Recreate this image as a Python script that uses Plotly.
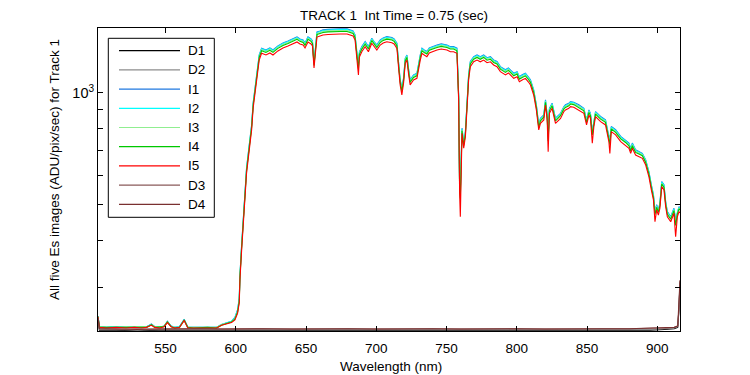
import plotly.graph_objects as go

# ---------------- data ----------------
wavelength = [
    502.0, 503.0, 508.0, 515.0, 522.0, 528.0, 533.0, 536.5, 538.5, 540.0,
    542.4, 546.0, 549.0, 551.4, 554.0, 556.6, 560.0, 563.3, 565.9, 570.0,
    575.0, 580.0, 586.4, 589.9, 594.0, 597.0, 599.4, 601.3, 602.5, 603.0,
    604.2, 605.3, 606.5, 607.7, 609.6, 611.3, 612.4, 614.4, 616.7, 618.4,
    621.5, 624.3, 626.5, 630.0, 633.6, 637.2, 640.7, 643.6, 645.7, 647.9,
    649.3, 651.4, 653.6, 654.6, 655.7, 656.4, 657.8, 660.0, 662.1, 665.7,
    669.3, 674.3, 679.2, 682.1, 683.5, 684.9, 686.4, 687.3, 688.0, 689.7,
    692.1, 694.4, 696.8, 698.5, 700.4, 702.8, 704.9, 707.5, 711.1, 712.7,
    714.7, 715.8, 717.0, 718.2, 719.4, 720.6, 721.8, 722.9, 724.1, 726.5,
    728.9, 731.3, 732.5, 734.1, 736.0, 737.7, 739.6, 743.2, 746.2, 750.3,
    752.7, 755.0, 757.4, 758.6, 759.3, 759.8, 761.0, 762.2, 763.4, 764.6,
    765.7, 766.9, 769.3, 771.7, 774.0, 776.4, 778.8, 781.2, 783.5, 785.9,
    788.3, 791.9, 794.0, 795.4, 797.8, 800.2, 801.8, 803.8, 806.1, 808.3,
    809.7, 812.0, 813.9, 815.6, 816.8, 819.2, 820.4, 821.6, 822.3, 823.2,
    825.1, 827.5, 829.9, 831.1, 833.4, 834.6, 837.0, 838.2, 840.5, 844.1,
    847.7, 849.6, 851.3, 852.4, 853.7, 854.8, 856.0, 859.6, 863.1, 865.5,
    866.2, 867.2, 870.3, 873.9, 877.4, 879.8, 881.0, 882.2, 884.5, 886.9,
    889.3, 891.7, 894.0, 895.7, 897.2, 898.3, 899.5, 900.7, 901.8, 903.1,
    904.7, 905.9, 907.1, 909.5, 910.7, 911.8, 913.0, 914.2, 915.4, 916.1,
]

I5 = [
    250, 234, 233, 234, 233, 234, 233, 234, 236, 237,
    234, 233, 235, 241, 235, 233, 234, 244, 233, 233,
    234, 233, 233, 237, 239, 241, 245, 255, 272, 314,
    378, 446, 515, 608, 701, 794, 910, 1062, 1224, 1276,
    1263, 1279, 1263, 1295, 1319, 1335, 1352, 1369, 1352, 1343,
    1319, 1369, 1352, 1335, 1165, 1240, 1411, 1420, 1429, 1434,
    1438, 1438, 1438, 1429, 1420, 1386, 1202, 1116, 1247, 1289,
    1329, 1289, 1358, 1327, 1302, 1343, 1360, 1371, 1363, 1352,
    1316, 1175, 1049, 986, 1060, 1199, 1224, 1128, 1049, 1082,
    1093, 1224, 1276, 1263, 1250, 1279, 1289, 1302, 1311, 1302,
    1289, 1289, 1276, 956, 537, 464, 778, 709, 762, 899,
    1082, 1175, 1211, 1224, 1211, 1224, 1204, 1211, 1187, 1175,
    1139, 1116, 1130, 1116, 1093, 1104, 1070, 1082, 1093, 1068,
    1049, 986, 899, 794, 827, 845, 927, 845, 694, 880,
    908, 827, 845, 853, 889, 899, 908, 917, 914, 899,
    880, 819, 871, 853, 731, 810, 862, 836, 819, 739,
    687, 786, 770, 739, 723, 709, 687, 709, 680, 673,
    666, 639, 594, 548, 515, 450, 484, 469, 489, 559,
    548, 494, 464, 450, 464, 474, 410, 464, 479, 475,
]

I4 = [
    250, 234, 234, 234, 233, 234, 234, 234, 236, 238,
    234, 234, 235, 242, 235, 233, 234, 245, 234, 233,
    234, 234, 233, 237, 240, 242, 246, 257, 275, 319,
    384, 453, 523, 618, 712, 807, 925, 1079, 1244, 1296,
    1283, 1300, 1283, 1316, 1340, 1356, 1374, 1391, 1374, 1364,
    1340, 1391, 1374, 1356, 1184, 1260, 1434, 1443, 1452, 1457,
    1461, 1461, 1461, 1452, 1443, 1408, 1221, 1160, 1267, 1310,
    1350, 1310, 1380, 1348, 1323, 1364, 1382, 1393, 1385, 1374,
    1337, 1194, 1066, 1010, 1077, 1218, 1244, 1146, 1066, 1099,
    1110, 1244, 1296, 1283, 1270, 1300, 1310, 1323, 1332, 1323,
    1310, 1310, 1296, 971, 548, 520, 790, 720, 774, 913,
    1099, 1194, 1230, 1244, 1230, 1244, 1223, 1230, 1206, 1194,
    1157, 1134, 1148, 1134, 1110, 1122, 1087, 1099, 1110, 1085,
    1066, 1002, 913, 807, 840, 859, 942, 859, 740, 894,
    922, 840, 859, 867, 903, 913, 922, 932, 929, 913,
    894, 832, 885, 867, 770, 823, 876, 849, 832, 751,
    725, 799, 782, 751, 735, 720, 698, 720, 691, 684,
    677, 649, 604, 557, 523, 470, 492, 477, 497, 568,
    557, 502, 471, 457, 471, 482, 440, 471, 487, 483,
]

I3 = [
    250, 235, 234, 234, 234, 234, 234, 235, 236, 238,
    235, 234, 236, 242, 235, 234, 234, 245, 234, 234,
    234, 234, 234, 238, 240, 242, 247, 258, 277, 321,
    386, 456, 526, 621, 716, 812, 930, 1085, 1251, 1304,
    1291, 1307, 1291, 1324, 1348, 1364, 1382, 1399, 1382, 1373,
    1348, 1399, 1382, 1364, 1191, 1267, 1442, 1451, 1460, 1466,
    1470, 1470, 1470, 1460, 1451, 1416, 1228, 1175, 1274, 1317,
    1358, 1317, 1388, 1356, 1331, 1373, 1390, 1401, 1393, 1382,
    1345, 1201, 1072, 1020, 1083, 1225, 1251, 1153, 1072, 1106,
    1117, 1251, 1304, 1291, 1278, 1307, 1317, 1331, 1340, 1331,
    1317, 1317, 1304, 977, 552, 530, 795, 725, 779, 919,
    1106, 1201, 1238, 1251, 1238, 1251, 1230, 1238, 1213, 1201,
    1164, 1141, 1155, 1141, 1117, 1128, 1094, 1106, 1117, 1092,
    1072, 1008, 919, 812, 845, 864, 947, 864, 750, 899,
    928, 845, 864, 872, 909, 919, 928, 937, 934, 919,
    899, 837, 890, 872, 775, 828, 881, 854, 837, 755,
    735, 803, 787, 755, 739, 725, 702, 725, 695, 688,
    681, 653, 607, 560, 526, 475, 495, 479, 500, 571,
    560, 505, 474, 460, 474, 484, 445, 474, 490, 485,
]

I2 = [
    251, 235, 234, 235, 234, 234, 234, 235, 237, 238,
    235, 234, 236, 242, 236, 234, 235, 245, 234, 234,
    235, 234, 234, 238, 241, 243, 248, 260, 279, 323,
    389, 458, 529, 625, 721, 816, 936, 1092, 1258, 1312,
    1298, 1315, 1298, 1331, 1356, 1372, 1390, 1407, 1390, 1381,
    1356, 1407, 1390, 1372, 1198, 1275, 1451, 1460, 1469, 1474,
    1478, 1478, 1478, 1469, 1460, 1425, 1236, 1190, 1282, 1325,
    1366, 1325, 1396, 1364, 1338, 1381, 1398, 1409, 1401, 1390,
    1353, 1208, 1078, 1030, 1090, 1233, 1258, 1160, 1078, 1112,
    1124, 1258, 1312, 1298, 1285, 1315, 1325, 1338, 1348, 1338,
    1325, 1325, 1312, 983, 555, 540, 800, 729, 783, 924,
    1112, 1208, 1245, 1258, 1245, 1258, 1238, 1245, 1220, 1208,
    1171, 1147, 1162, 1147, 1124, 1135, 1100, 1112, 1124, 1098,
    1078, 1014, 924, 816, 850, 869, 953, 869, 760, 905,
    933, 850, 869, 877, 914, 924, 933, 943, 940, 924,
    905, 842, 895, 877, 780, 833, 886, 859, 842, 760,
    745, 808, 792, 760, 743, 729, 706, 729, 699, 692,
    685, 657, 611, 563, 529, 478, 498, 482, 503, 575,
    563, 508, 477, 463, 477, 487, 450, 477, 492, 488,
]

I1 = [
    251, 235, 234, 235, 234, 235, 234, 235, 237, 239,
    235, 234, 236, 243, 236, 234, 235, 246, 234, 234,
    235, 234, 234, 238, 241, 243, 249, 261, 280, 324,
    390, 460, 532, 628, 723, 819, 939, 1096, 1263, 1317,
    1303, 1320, 1303, 1336, 1361, 1378, 1395, 1413, 1395, 1386,
    1361, 1413, 1395, 1378, 1202, 1280, 1456, 1465, 1475, 1480,
    1484, 1484, 1484, 1475, 1465, 1430, 1240, 1200, 1287, 1330,
    1372, 1330, 1401, 1370, 1344, 1386, 1404, 1415, 1407, 1395,
    1358, 1213, 1083, 1035, 1094, 1237, 1263, 1164, 1083, 1117,
    1128, 1263, 1317, 1303, 1290, 1320, 1330, 1344, 1353, 1344,
    1330, 1330, 1317, 987, 556, 545, 803, 732, 786, 928,
    1117, 1213, 1250, 1263, 1250, 1263, 1242, 1250, 1225, 1213,
    1175, 1152, 1166, 1152, 1128, 1139, 1104, 1117, 1128, 1102,
    1083, 1018, 928, 819, 854, 872, 957, 872, 765, 908,
    937, 854, 872, 880, 917, 928, 937, 946, 943, 928,
    908, 845, 899, 880, 785, 836, 890, 863, 845, 763,
    750, 811, 795, 763, 746, 732, 709, 732, 702, 695,
    687, 659, 613, 566, 532, 480, 500, 484, 505, 577,
    566, 510, 479, 464, 479, 489, 455, 479, 494, 490,
]

dark_wavelength = [
    502.0, 503.0, 515.0, 530.0, 545.0, 560.0, 575.0, 590.0, 605.0, 620.0,
    640.0, 660.0, 680.0, 700.0, 720.0, 740.0, 760.0, 780.0, 800.0, 820.0,
    840.0, 860.0, 880.0, 895.0, 905.0, 912.0, 914.5, 915.4, 916.1,
]
D1 = [246, 230, 230, 229, 230, 230, 229, 230, 230, 229,
      230, 230, 229, 230, 230, 229, 230, 230, 229, 230,
      230, 229, 230, 230, 231, 232, 234, 262, 308]
D2 = [247, 231, 231, 230, 231, 231, 230, 231, 231, 230,
      231, 231, 230, 231, 231, 230, 231, 231, 230, 231,
      231, 231, 231, 231, 232, 233, 235, 264, 310]
D3 = [248, 232, 231, 232, 231, 232, 232, 231, 232, 232,
      231, 232, 232, 231, 232, 232, 231, 232, 232, 231,
      232, 232, 232, 232, 233, 234, 236, 265, 312]
D4 = [248, 232, 232, 231, 232, 232, 231, 232, 232, 231,
      232, 232, 231, 232, 232, 231, 232, 232, 231, 232,
      232, 232, 232, 233, 233, 234, 236, 266, 313]

series_names = ["D1", "D2", "I1", "I2", "I3", "I4", "I5", "D3", "D4"]
series_colors = ["#000000", "#8c8c8c", "#1f78e0", "#00ffff", "#90ee90",
                 "#00c800", "#ff0000", "#8a5a5a", "#7a3030"]

x_ticks = [550, 600, 650, 700, 750, 800, 850, 900]
y_major_ticks = [1000]
y_major_text = ["10<sup>3</sup>"]
y_minor_ticks = [300, 400, 500, 600, 700, 800, 900]

# ---------------- figure ----------------
FONT = "Liberation Sans, Arial, Helvetica, sans-serif"
fig = go.Figure()

data_map = {
    "D1": (dark_wavelength, D1), "D2": (dark_wavelength, D2),
    "I1": (wavelength, I1), "I2": (wavelength, I2), "I3": (wavelength, I3),
    "I4": (wavelength, I4), "I5": (wavelength, I5),
    "D3": (dark_wavelength, D3), "D4": (dark_wavelength, D4),
}
for name, color in zip(series_names, series_colors):
    xs, ys = data_map[name]
    fig.add_trace(go.Scatter(x=xs, y=ys, mode="lines", name=name,
                             line=dict(color=color, width=1.1),
                             showlegend=False, hoverinfo="skip"))

# page has an 8px body margin: figure is shrunk so the plot lands where the reference has it
OFF = 8
W, H = 750 - OFF, 375 - OFF
PL, PR, PT, PB = 98, 680, 28, 331          # plot-area edges in page pixels
L, R, T, B = PL - OFF, W - (PR - OFF), PT - OFF, H - (PB - OFF)
pw, ph = PR - PL, PB - PT


def px_x(px):
    return (px - PL) / pw


def px_y(py):
    return (PB - py) / ph


shapes = []
annotations = []
# legend box
shapes.append(dict(type="rect", xref="paper", yref="paper",
                   x0=px_x(108.3), x1=px_x(214.3), y0=px_y(217.3), y1=px_y(38.3),
                   line=dict(color="black", width=1), fillcolor="white", layer="above"))
for i, (name, color) in enumerate(zip(series_names, series_colors)):
    yy = px_y(50.7 + 19.2 * i)
    shapes.append(dict(type="line", xref="paper", yref="paper",
                       x0=px_x(119), x1=px_x(180), y0=yy, y1=yy,
                       line=dict(color=color, width=1.2), layer="above"))
    annotations.append(dict(text=name, xref="paper", yref="paper",
                            x=px_x(186), y=yy, xanchor="left", yanchor="middle",
                            showarrow=False, font=dict(family=FONT, size=13.5, color="black")))

annotations.append(dict(text="TRACK 1\u00a0 Int Time = 0.75 (sec)", xref="paper", yref="paper",
                        x=px_x(393.8), y=px_y(15), xanchor="center", yanchor="middle",
                        showarrow=False, font=dict(family=FONT, size=13.5, color="black")))
annotations.append(dict(text="Wavelength (nm)", xref="paper", yref="paper",
                        x=px_x(391), y=px_y(366), xanchor="center", yanchor="middle",
                        showarrow=False, font=dict(family=FONT, size=13.5, color="black")))
annotations.append(dict(text="All five Es images (ADU/pix/sec) for Track 1", xref="paper", yref="paper",
                        x=px_x(54), y=px_y(170), xanchor="center", yanchor="middle",
                        textangle=-90, showarrow=False,
                        font=dict(family=FONT, size=13.5, color="black")))

fig.update_layout(
    width=W, height=H,
    margin=dict(l=L, r=R, t=T, b=B, autoexpand=False),
    paper_bgcolor="white", plot_bgcolor="white",
    font=dict(family=FONT, size=13, color="black"),
    shapes=shapes, annotations=annotations,
    showlegend=False,
)
fig.update_xaxes(range=[502.0, 916.1], tickvals=x_ticks, ticks="inside", ticklen=5,
                 tickcolor="black", showline=True, linecolor="black", linewidth=1,
                 mirror="allticks", showgrid=False, zeroline=False, automargin=False,
                 ticklabelstandoff=5,
                 tickfont=dict(family=FONT, size=13.5, color="black"))
fig.update_yaxes(type="log", range=[2.3594, 3.1739], tickvals=y_major_ticks, ticktext=y_major_text,
                 ticks="inside", ticklen=5, tickcolor="black", showline=True,
                 linecolor="black", linewidth=1, mirror="allticks", showgrid=False,
                 zeroline=False, automargin=False,
                 minor=dict(tickvals=y_minor_ticks, ticks="inside", ticklen=5,
                            tickcolor="black", showgrid=False),
                 tickfont=dict(family=FONT, size=14.5, color="black"))

fig.write_html("out.html")
